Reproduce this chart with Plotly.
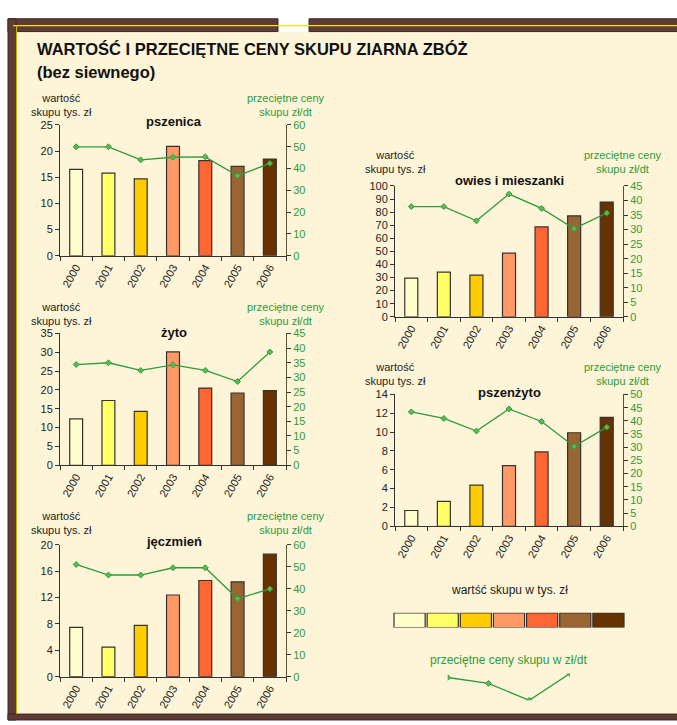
import plotly.graph_objects as go

W, H = 677, 725

years = ["2000", "2001", "2002", "2003", "2004", "2005", "2006"]
bar_colors = ["#FFFFCC", "#FFFF66", "#FFCC00", "#FF9966", "#FF6633", "#996633", "#663300"]

pszenica_value = [16.5, 15.8, 14.7, 20.9, 18.2, 17.1, 18.5]
pszenica_price = [50.0, 50.0, 44.0, 45.2, 45.4, 36.7, 42.4]
zyto_value = [12.3, 17.2, 14.3, 30.1, 20.5, 19.2, 19.8]
zyto_price = [34.4, 35.0, 32.4, 34.3, 32.4, 28.6, 38.7]
jeczmien_value = [7.5, 4.5, 7.8, 12.4, 14.6, 14.4, 18.6]
jeczmien_price = [51.1, 46.3, 46.3, 49.6, 49.6, 35.5, 40.0]
owies_value = [29.6, 34.1, 31.8, 48.6, 68.7, 77.2, 87.7]
owies_price = [37.9, 37.9, 33.0, 42.2, 37.3, 30.3, 35.7]
pszenzyto_value = [1.67, 2.65, 4.36, 6.45, 7.9, 9.93, 11.57]
pszenzyto_price = [43.4, 40.9, 36.1, 44.5, 39.75, 30.25, 37.6]

legend_boxes = [1, 1, 1, 1, 1, 1, 1]
legend_line = [8.5, 6.3, 0.0, 10.0]

GREEN = "#2E9A3A"
DARK = "#222222"
CREAM = "#FEF5D8"
BROWN = "#5E3C35"
FONT = "Liberation Sans, Arial, sans-serif"


def X(px):
    return px / W


def Y(py):
    return 1 - py / H


# name, values, prices, left max, left dtick, right max, right dtick,
# plot box (left, right, top, bottom) px, title y, axis-title y
panels = [
    ("pszenica", pszenica_value, pszenica_price, 25, 5, 60, 10, (60, 286, 121, 254), 117, 101),
    ("żyto", zyto_value, zyto_price, 35, 5, 45, 5, (60, 286, 333, 467), 332, 313),
    ("jęczmień", jeczmien_value, jeczmien_price, 20, 4, 60, 10, (60, 286, 548, 682), 545, 526),
    ("owies i mieszanki", owies_value, owies_price, 100, 10, 45, 5, (395, 623, 183, 316), 177, 159),
    ("pszenżyto", pszenzyto_value, pszenzyto_price, 14, 2, 50, 5, (395, 623, 395, 529), 393, 374),
]

fig = go.Figure()
layout = {}
annotations = []

for i, (name, vals, prices, lmax, ldt, rmax, rdt, box, ty, aty) in enumerate(panels):
    xi = i + 1
    yl = 2 * i + 1
    yr = 2 * i + 2
    xs = "x" if xi == 1 else f"x{xi}"
    yls = "y" if yl == 1 else f"y{yl}"
    yrs = f"y{yr}"
    xkey = "xaxis" if xi == 1 else f"xaxis{xi}"
    ylkey = "yaxis" if yl == 1 else f"yaxis{yl}"
    yrkey = f"yaxis{yr}"
    l, r, t, b = box

    fig.add_trace(go.Bar(
        x=years, y=vals, xaxis=xs, yaxis=yls, width=0.4,
        marker=dict(color=bar_colors, line=dict(color="#3A3030", width=1.2)),
        showlegend=False, hoverinfo="skip"))
    fig.add_trace(go.Scatter(
        x=years, y=prices, xaxis=xs, yaxis=yrs, mode="lines+markers",
        line=dict(color=GREEN, width=1.3),
        marker=dict(symbol="diamond", size=4.5, color="#5DBB55", line=dict(color=GREEN, width=1)),
        showlegend=False, hoverinfo="skip"))

    layout[xkey] = dict(
        domain=[X(l), X(r)], anchor=yls, type="category", range=[-0.5, 6.5],
        showline=True, linecolor="#333333", linewidth=1, ticks="outside",
        tickson="boundaries", ticklen=4, tickcolor="#333333", tickangle=-60,
        tickfont=dict(family=FONT, size=11, color=DARK), showgrid=False, zeroline=False)
    layout[ylkey] = dict(
        domain=[Y(b), Y(t)], anchor=xs, range=[0, lmax], dtick=ldt, tick0=0,
        showline=True, linecolor="#333333", linewidth=1, ticks="outside", ticklen=4,
        tickcolor="#333333", tickfont=dict(family=FONT, size=11, color=DARK),
        showgrid=False, zeroline=False)
    layout[yrkey] = dict(
        domain=[Y(b), Y(t)], anchor=xs, overlaying=yls, side="right",
        range=[0, rmax], dtick=rdt, tick0=0,
        showline=True, linecolor="#555533", linewidth=1, ticks="outside", ticklen=4,
        tickcolor="#333333", tickfont=dict(family=FONT, size=11, color=GREEN),
        showgrid=False, zeroline=False)

    annotations.append(dict(
        text=f"<b>{name}</b>", x=X((l + r) / 2 + 1), y=Y(ty), xref="paper", yref="paper",
        xanchor="center", yanchor="middle", showarrow=False,
        font=dict(family=FONT, size=13, color="#111111")))
    annotations.append(dict(
        text="wartość<br>skupu tys. zł", x=X(l + 1), y=Y(aty), xref="paper", yref="paper",
        xanchor="center", yanchor="middle", showarrow=False,
        font=dict(family=FONT, size=11, color=DARK)))
    annotations.append(dict(
        text="przeciętne ceny<br>skupu zł/dt", x=X(r), y=Y(aty), xref="paper", yref="paper",
        xanchor="center", yanchor="middle", showarrow=False,
        font=dict(family=FONT, size=11, color=GREEN)))

# legend: colour boxes
fig.add_trace(go.Bar(
    x=years, y=legend_boxes, xaxis="x6", yaxis="y11", width=0.94,
    marker=dict(color=bar_colors, line=dict(color="#3A3030", width=1.2)),
    showlegend=False, hoverinfo="skip"))
layout["xaxis6"] = dict(domain=[X(393), X(625)], anchor="y11", type="category",
                        range=[-0.5, 6.5], visible=False)
layout["yaxis11"] = dict(domain=[Y(632), Y(617)], anchor="x6", range=[0, 1], visible=False)

# legend: price line sample
fig.add_trace(go.Scatter(
    x=[0, 1, 2, 3], y=legend_line, xaxis="x7", yaxis="y12", mode="lines+markers",
    line=dict(color=GREEN, width=1.3),
    marker=dict(symbol="diamond", size=4.5, color="#5DBB55", line=dict(color=GREEN, width=1)),
    showlegend=False, hoverinfo="skip"))
layout["xaxis7"] = dict(domain=[X(447.7), X(570)], anchor="y12", range=[0, 3], visible=False)
layout["yaxis12"] = dict(domain=[Y(706), Y(678.7)], anchor="x7", range=[0, 10], visible=False)

annotations.append(dict(
    text="wartść skupu w tys. zł", x=X(510), y=Y(594), xref="paper", yref="paper",
    xanchor="center", yanchor="middle", showarrow=False,
    font=dict(family=FONT, size=12, color=DARK)))
annotations.append(dict(
    text="przeciętne ceny skupu w zł/dt", x=X(508), y=Y(665), xref="paper", yref="paper",
    xanchor="center", yanchor="middle", showarrow=False,
    font=dict(family=FONT, size=12, color=GREEN)))

# main title
annotations.append(dict(
    text="<b>WARTOŚĆ I PRZECIĘTNE CENY SKUPU ZIARNA ZBÓŻ</b>", x=X(35), y=Y(44),
    xref="paper", yref="paper", xanchor="left", yanchor="middle", showarrow=False,
    font=dict(family=FONT, size=16.5, color="#111111")))
annotations.append(dict(
    text="<b>(bez siewnego)</b>", x=X(35), y=Y(67),
    xref="paper", yref="paper", xanchor="left", yanchor="middle", showarrow=False,
    font=dict(family=FONT, size=16.5, color="#111111")))

# page frame
shapes = [
    dict(type="rect", xref="paper", yref="paper", x0=X(16), x1=X(677), y0=Y(720), y1=Y(26),
         fillcolor=CREAM, line=dict(width=0), layer="below"),
    dict(type="rect", xref="paper", yref="paper", x0=X(8), x1=X(278), y0=Y(26), y1=Y(13),
         fillcolor=BROWN, line=dict(color="#3E2822", width=1), layer="below"),
    dict(type="rect", xref="paper", yref="paper", x0=X(309), x1=X(680), y0=Y(26), y1=Y(13),
         fillcolor=BROWN, line=dict(color="#3E2822", width=1), layer="below"),
    dict(type="rect", xref="paper", yref="paper", x0=X(8), x1=X(16), y0=Y(726), y1=Y(13),
         fillcolor=BROWN, line=dict(color="#3E2822", width=1), layer="below"),
    dict(type="rect", xref="paper", yref="paper", x0=X(8), x1=X(680), y0=Y(726), y1=Y(720),
         fillcolor=BROWN, line=dict(color="#3E2822", width=1), layer="below"),
    dict(type="line", xref="paper", yref="paper", x0=X(13), x1=X(677), y0=Y(20), y1=Y(20),
         line=dict(color="#F2E600", width=1.2), layer="below"),
    dict(type="line", xref="paper", yref="paper", x0=X(16.5), x1=X(16.5), y0=Y(20), y1=Y(720),
         line=dict(color="#C8B400", width=1.2), layer="below"),
]

fig.update_layout(
    width=W, height=H, margin=dict(l=0, r=0, t=0, b=0),
    paper_bgcolor="white", plot_bgcolor="rgba(0,0,0,0)",
    font=dict(family=FONT, size=11, color=DARK),
    annotations=annotations, shapes=shapes, showlegend=False,
    **layout)

fig.write_html(
    "out.html",
    config={"displayModeBar": False},
    post_script="document.body.style.margin='0px';document.body.style.overflow='hidden';")
